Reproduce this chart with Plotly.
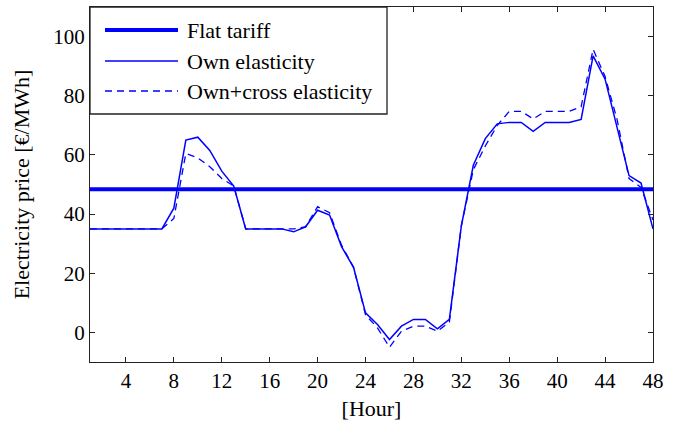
import plotly.graph_objects as go

hours = list(range(1, 49))
own_elasticity = [35, 35, 35, 35, 35, 35, 35, 42, 65, 66, 61.5, 54.5, 49.5, 35,
                  35, 35, 35, 34, 35.7, 41.3, 39.7, 29, 22, 6.6, 2.7, -2.4, 2.1, 4.4,
                  4.4, 1.2, 4.4, 36, 56.5, 65.5, 70.5, 71, 71, 68, 71, 71, 71, 72,
                  93.5, 85.6, 69.5, 53, 50.5, 35]
own_cross_elasticity = [35, 35, 35, 35, 35, 35, 35, 38.5, 60.5, 59, 56, 52, 49.5, 35,
                        35, 35, 35, 35, 35.7, 42.5, 40.5, 29.5, 22, 6, 1.5, -5, 0.4, 2.1,
                        2.1, 0.4, 3.5, 36, 55, 63, 70, 74.7, 74.7, 72.2, 74.7, 74.7, 74.7, 76.3,
                        95.7, 86.5, 72, 52, 49, 38]
flat_tariff = 48.4
x_ticks = list(range(4, 49, 4))
y_ticks = [0, 20, 40, 60, 80, 100]
legend_labels = ["Flat tariff", "Own elasticity", "Own+cross elasticity"]

BLUE = "#0000ff"
FONT = "Liberation Serif, Times New Roman, serif"
DASH = "7px,5px"

fig = go.Figure()
fig.add_trace(go.Scatter(x=[hours[0], hours[-1]], y=[flat_tariff, flat_tariff], mode="lines",
                         line=dict(color=BLUE, width=4), name=legend_labels[0]))
fig.add_trace(go.Scatter(x=hours, y=own_elasticity, mode="lines",
                         line=dict(color=BLUE, width=1.5), name=legend_labels[1]))
fig.add_trace(go.Scatter(x=hours, y=own_cross_elasticity, mode="lines",
                         line=dict(color=BLUE, width=1.3, dash=DASH), name=legend_labels[2]))

axis_common = dict(showline=True, linecolor="#222", linewidth=1.3, mirror="ticks",
                   ticks="inside", ticklen=5, tickcolor="#222", showgrid=False, zeroline=False,
                   tickfont=dict(family=FONT, size=21, color="black"))
fig.update_xaxes(range=[1, 48], tickvals=x_ticks,
                 title=dict(text="[Hour]", font=dict(family=FONT, size=22, color="black"), standoff=8),
                 **axis_common)
fig.update_yaxes(range=[-10, 110], tickvals=y_ticks,
                 title=dict(text="Electricity price [€/MWh]", font=dict(family=FONT, size=22, color="black"), standoff=17),
                 **axis_common)

# Custom legend box (MATLAB style)
bx0, bx1 = 0.0, (387 - 90) / 563
by0, by1 = (362 - 114) / 355, 1.0
shapes = [dict(type="rect", xref="x domain", yref="y domain", x0=bx0, x1=bx1, y0=by0, y1=by1,
               fillcolor="white", line=dict(color="#222", width=1.3), layer="above")]
rows_px = [30, 61, 91]
styles = [dict(width=4), dict(width=1.5), dict(width=1.3, dash=DASH)]
annotations = []
for label, ypx, st in zip(legend_labels, rows_px, styles):
    yd = (362 - ypx) / 355
    shapes.append(dict(type="line", xref="x domain", yref="y domain",
                       x0=(105 - 90) / 563, x1=(178 - 90) / 563, y0=yd, y1=yd,
                       line=dict(color=BLUE, **st), layer="above"))
    annotations.append(dict(xref="x domain", yref="y domain", x=(185 - 90) / 563, y=yd,
                            text=label, showarrow=False, xanchor="left", yanchor="middle",
                            font=dict(family=FONT, size=22, color="black")))

fig.update_layout(width=684, height=426, margin=dict(l=90, r=31, t=7, b=64),
                  paper_bgcolor="white", plot_bgcolor="white", showlegend=False,
                  shapes=shapes, annotations=annotations)

fig.write_html("out.html")
